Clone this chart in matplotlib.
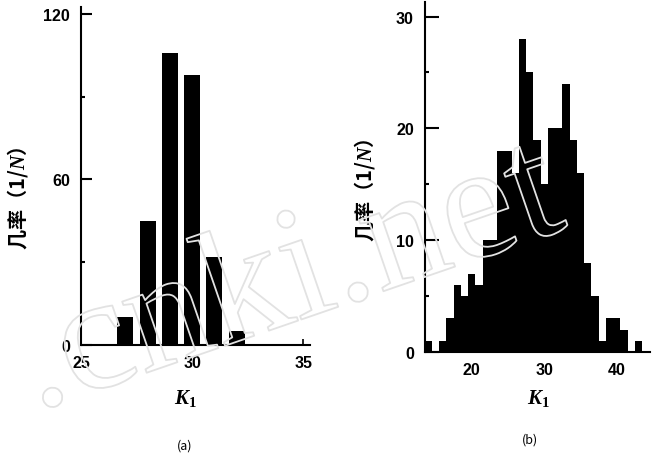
"""Two histograms of K1: (a) narrow distribution, (b) wide distribution."""
import matplotlib
matplotlib.use("Agg")
import matplotlib.pyplot as plt
from matplotlib import patheffects
import numpy as np

plt.rcParams["mathtext.fontset"] = "custom"
plt.rcParams["mathtext.it"] = "Liberation Serif:bold:italic"
plt.rcParams["mathtext.rm"] = "Liberation Serif:bold"

# (a) bar chart, one bar per integer K1
a_k = [27, 28, 29, 30, 31, 32]
a_count = [10, 45, 106, 98, 32, 5]

# (b) histogram, unit bins centred on integers 14..43
b_k = list(range(14, 44))
b_count = [1, 0, 1, 3, 6, 5, 7, 6, 10, 10, 18, 18, 16, 28, 25,
           19, 15, 20, 20, 24, 19, 16, 8, 5, 1, 3, 3, 2, 0, 1]

YLABEL = "几率（1/$N$）"
TICK_FONT = dict(family="Liberation Sans", weight="bold", size=11.5)
CJK = ["Noto Sans CJK SC", "DejaVu Sans"]

fig = plt.figure(figsize=(6.58, 4.64), dpi=100)
ax1 = fig.add_axes([0.1231, 0.2543, 0.348, 0.7284])
ax2 = fig.add_axes([0.6459, 0.2392, 0.342, 0.7543])

ax1.bar(a_k, a_count, width=0.72, color="black")
ax1.set_xlim(25, 35.3)
ax1.set_ylim(0, 122.5)
ax1.set_xticks([25, 30, 35])
ax1.set_yticks([0, 60, 120])
ax1.set_yticks([30, 90], minor=True)

edges = np.arange(b_k[0] - 0.5, b_k[-1] + 1.0, 1.0)
ax2.stairs(b_count, edges, fill=True, color="black")
ax2.set_xlim(13.55, 44.6)
ax2.set_ylim(0, 31.3)
ax2.set_xticks([20, 30, 40])
ax2.set_yticks([0, 10, 20, 30])
ax2.set_yticks([5, 15, 25], minor=True)

for ax, tl in ((ax1, 8), (ax2, 10)):
    for s in ("top", "right"):
        ax.spines[s].set_visible(False)
    for s in ("left", "bottom"):
        ax.spines[s].set_linewidth(1.5)
    ax.tick_params(axis="y", which="major", direction="in", length=tl, width=1.5, pad=8)
    ax.tick_params(axis="y", which="minor", direction="in", length=3, width=1.5)
    ax.tick_params(axis="x", which="major", direction="in", length=4, width=1.2, pad=7)
    for lab in ax.get_xticklabels() + ax.get_yticklabels():
        lab.set_fontproperties(TICK_FONT)
        lab.set_fontfamily(TICK_FONT["family"])
        lab.set_fontweight("bold")
        lab.set_fontsize(TICK_FONT["size"])
    ax.set_xlabel("$K_1$", fontsize=15)
    ax.set_ylabel(YLABEL, family=CJK, fontweight="bold", fontsize=14.5)

ax1.xaxis.set_label_coords(0.454, -0.125)
ax2.xaxis.set_label_coords(0.502, -0.10)
ax1.yaxis.set_label_coords(-0.223, 0.438)
ax2.yaxis.set_label_coords(-0.213, 0.466)

fig.text(0.281, 0.039, "(a)", family=CJK, fontsize=9, ha="center", va="center")
fig.text(0.805, 0.052, "(b)", family=CJK, fontsize=9, ha="center", va="center")

# faint outlined watermark across both panels
fig.text(0.44, 0.39, ".cnki.net", family="Liberation Serif", fontsize=118,
         rotation=19, ha="center", va="center", color="none", zorder=10,
         path_effects=[patheffects.withStroke(linewidth=1.3, foreground="#e2e2e2")])

fig.savefig("out.png", dpi=100, facecolor="white")
